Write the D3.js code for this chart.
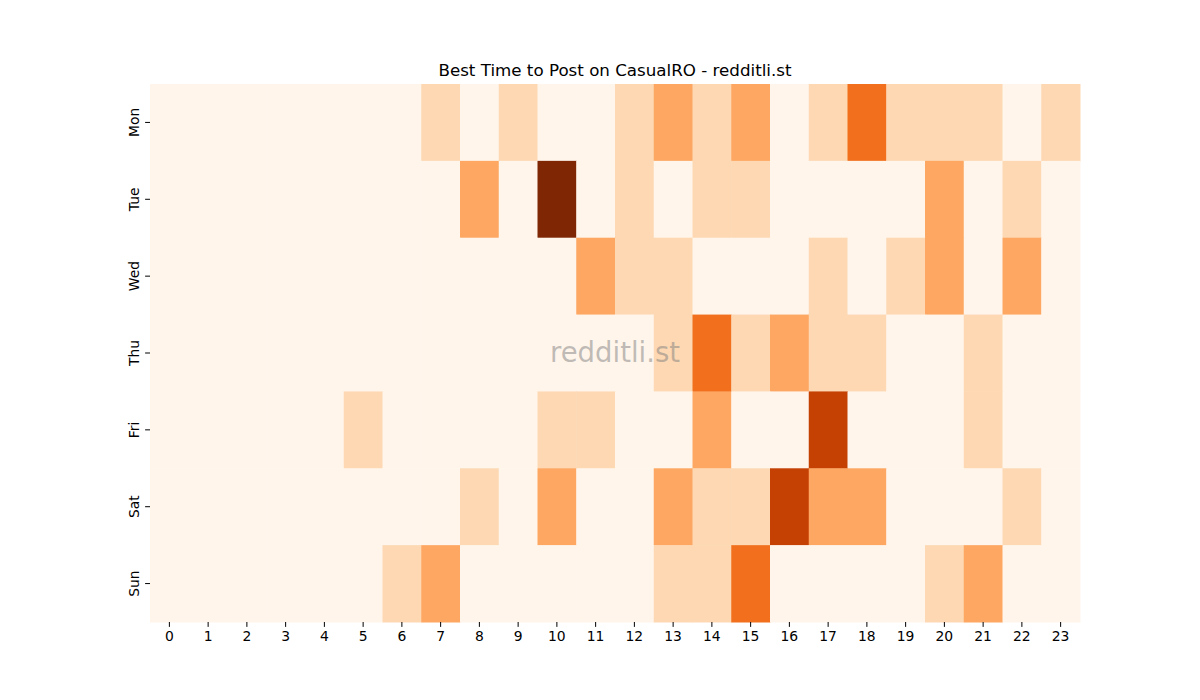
<!DOCTYPE html>
<html><head><meta charset="utf-8">
<script src="https://cdn.jsdelivr.net/npm/d3@7"></script>
<style>body{margin:0;background:#fff}</style>
</head><body>
<svg id="chart" width="1200" height="700"></svg>
<script>
const days = ["Mon","Tue","Wed","Thu","Fri","Sat","Sun"];
const hours = d3.range(24).map(String);
const title = "Best Time to Post on CasualRO - redditli.st";
const watermark = "redditli.st";
// counts per day (rows) x hour (cols)
const mon = [0,0,0,0,0,0,0,1,0,1,0,0,1,2,1,2,0,1,3,1,1,1,0,1];
const tue = [0,0,0,0,0,0,0,0,2,0,5,0,1,0,1,1,0,0,0,0,2,0,1,0];
const wed = [0,0,0,0,0,0,0,0,0,0,0,2,1,1,0,0,0,1,0,1,2,0,2,0];
const thu = [0,0,0,0,0,0,0,0,0,0,0,0,0,1,3,1,2,1,1,0,0,1,0,0];
const fri = [0,0,0,0,0,1,0,0,0,0,1,1,0,0,2,0,0,4,0,0,0,1,0,0];
const sat = [0,0,0,0,0,0,0,0,1,0,2,0,0,2,1,1,4,2,2,0,0,0,1,0];
const sun = [0,0,0,0,0,0,1,2,0,0,0,0,0,1,1,3,0,0,0,0,1,2,0,0];
const rows = [mon,tue,wed,thu,fri,sat,sun];

const svg = d3.select("#chart");
const m = {left:150, top:84, right:1080, bottom:622};
const x = d3.scaleBand().domain(hours).range([m.left, m.right]);
const y = d3.scaleBand().domain(days).range([m.top, m.bottom]);
const vmax = d3.max(rows.flat());
const color = v => d3.interpolateOranges(v / vmax);

const cells = [];
rows.forEach((r,i) => r.forEach((v,j) => cells.push({day:days[i], hour:hours[j], v})));
svg.append("g").selectAll("rect").data(cells).join("rect")
  .attr("x", d => x(d.hour)).attr("y", d => y(d.day))
  .attr("width", x.bandwidth()+0.5).attr("height", y.bandwidth()+0.5)
  .attr("fill", d => color(d.v));

const font = "DejaVu Sans, sans-serif";
const xa = svg.append("g").attr("transform", `translate(0,${m.bottom})`)
  .call(d3.axisBottom(x).tickSize(4.9).tickPadding(4.5));
xa.select(".domain").remove();
xa.selectAll("text").attr("font-family", font).attr("font-size", 13.9).attr("fill","#000");
xa.selectAll("line").attr("stroke","#000").attr("stroke-width",1);

const ya = svg.append("g").attr("transform", `translate(${m.left},0)`)
  .call(d3.axisLeft(y).tickSize(4.9).tickPadding(4.5));
ya.select(".domain").remove();
ya.selectAll("line").attr("stroke","#000").attr("stroke-width",1);
ya.selectAll("text").attr("font-family", font).attr("font-size", 13.9).attr("fill","#000")
  .each(function(){
    d3.select(this).attr("x", null).attr("dy", "0.1em")
     .attr("text-anchor","middle")
     .attr("transform","translate(-12,0) rotate(-90)");
  });

svg.append("text").attr("x", (m.left+m.right)/2).attr("y", 76)
  .attr("text-anchor","middle").attr("font-family", font).attr("font-size", 16.7)
  .attr("fill","#000").text(title);

svg.append("text").attr("x", (m.left+m.right)/2).attr("y", 362)
  .attr("text-anchor","middle").attr("font-family", font).attr("font-size", 27.5)
  .attr("fill","#808080").attr("fill-opacity",0.5).text(watermark);
</script>
</body></html>
